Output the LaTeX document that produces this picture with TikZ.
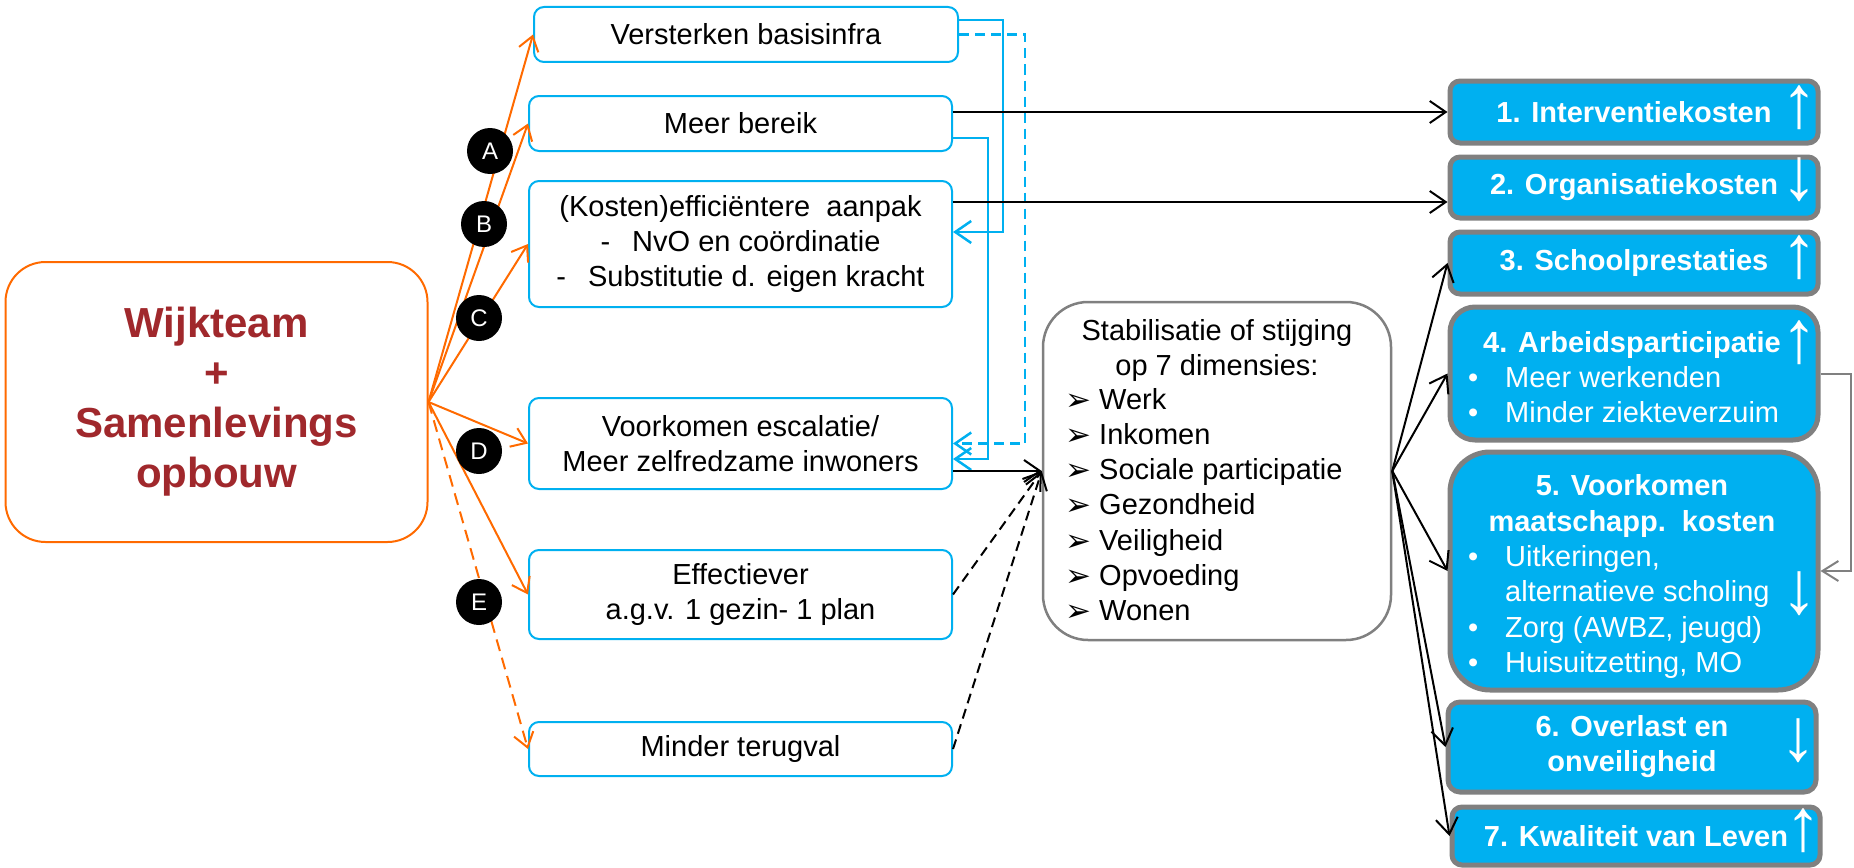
\documentclass[tikz,border=0pt]{standalone}
\usepackage{graphicx}
\usepackage{fontspec}
\setmainfont{Liberation Sans}
\newfontfamily\djv{DejaVu Sans}
\usetikzlibrary{arrows.meta}
\definecolor{cblue}{HTML}{00B0F0}
\definecolor{cgray}{HTML}{808080}
\definecolor{corange}{HTML}{FF6A00}
\definecolor{cred}{HTML}{A0282C}
\newcommand{\myfs}[2]{\fontsize{#1}{#2}\selectfont}
\newcommand{\myarrow}[1]{\scalebox{1.5}[1.55]{#1}}
\begin{document}
\begin{tikzpicture}[x=1pt,y=-1pt,
  wtbox/.style={draw=corange, line width=2pt, rounded corners=40pt, fill=white, inner sep=0pt,
    minimum width=422pt, minimum height=280pt, text=cred, align=center, font=\myfs{42}{50}\bfseries},
  midbox/.style={draw=cblue, line width=2pt, rounded corners=10pt, fill=white, inner sep=0pt,
    align=center, font=\myfs{29}{35}},
  stabbox/.style={draw=cgray, line width=2.5pt, rounded corners=45pt, fill=white, inner sep=0pt,
    minimum width=348pt, minimum height=338pt},
  rbox/.style={draw=cgray, fill=cblue, line width=5pt, inner sep=0pt, align=center, text=white,
    font=\myfs{29}{35}\bfseries},
  rtitle/.style={text=white, font=\myfs{29}{35}\bfseries, inner sep=0pt, anchor=base},
  rtext/.style={text=white, font=\myfs{29}{35}, inner sep=0pt, anchor=base west},
  stext/.style={font=\myfs{29}{35}, inner sep=0pt, anchor=base west},
  updown/.style={text=white, font=\myfs{48}{48}, inner sep=0pt},
  lettercirc/.style={circle, fill=black, text=white, minimum size=46pt, inner sep=0pt, font=\myfs{24}{24}},
  orarr/.style={draw=corange, line width=2pt, -{Straight Barb[length=14pt,width=20pt]}},
  blarr/.style={draw=cblue, line width=2.5pt, -{Straight Barb[length=16pt,width=22pt]}},
  blkarr/.style={draw=black, line width=2pt, -{Straight Barb[length=16pt,width=22pt]}},
  grarr/.style={draw=cgray, line width=2pt, -{Straight Barb[length=16pt,width=20pt]}},
  dsh/.style={dash pattern=on 10pt off 6pt},
  odsh/.style={dash pattern=on 12pt off 7pt}
]
\useasboundingbox (0,0) rectangle (1854,867);

% left box
\node[wtbox] (wt) at (216.5,402) {Wijkteam\\+\\Samenlevings\\opbouw};

% middle boxes
\node[midbox, minimum width=424pt, minimum height=55pt] (b1) at (746,34.5) {Versterken basisinfra};
\node[midbox, minimum width=423pt, minimum height=55pt] (b2) at (740.5,123.5) {Meer bereik};
\node[midbox, minimum width=423pt, minimum height=126pt] (b3) at (740.5,244)
  {(Kosten)efficiëntere\ \ aanpak\\-\hspace{22pt}NvO en coördinatie\\-\hspace{22pt}Substitutie d. eigen kracht};
\node[midbox, minimum width=423pt, minimum height=91pt] (b4) at (740.5,443.5) {Voorkomen escalatie/\\Meer zelfredzame inwoners};
\node[midbox, minimum width=423pt, minimum height=89pt] (b5) at (740.5,594.5) {Effectiever\\a.g.v. 1 gezin- 1 plan};
\node[midbox, minimum width=423pt, minimum height=54pt] (b6) at (740.5,749) {Minder terugval};

% stabilisatie box
\node[stabbox] (stab) at (1217,471) {};
\node[font=\myfs{29}{35}, align=center, inner sep=0pt] (stabt) at (1217,350) {Stabilisatie of stijging\\op 7 dimensies:};
\foreach \t [count=\i] in {Werk,Inkomen,Sociale participatie,Gezondheid,Veiligheid,Opvoeding,Wonen}
  \node[stext] (sl\i) at (1065,{409+35.33*(\i-1)}) {\makebox[34pt][l]{\djv\myfs{31}{31}\raisebox{-1pt}{➢}}\t};

% right boxes
\node[rbox, minimum width=368pt, minimum height=62pt, rounded corners=10pt] (r1) at (1634,112) {1. Interventiekosten};
\node[rbox, minimum width=368pt, minimum height=61pt, rounded corners=10pt] (r2) at (1634,187.5) {2. Organisatiekosten};
\node[rbox, minimum width=368pt, minimum height=62pt, rounded corners=10pt] (r3) at (1634,263) {3. Schoolprestaties};
\node[rbox, minimum width=368pt, minimum height=133pt, rounded corners=25pt] (r4) at (1634,373.5) {};
\node[rbox, minimum width=368pt, minimum height=238pt, rounded corners=40pt] (r5) at (1634,571) {};
\node[rbox, minimum width=368pt, minimum height=90pt, rounded corners=12pt] (r6) at (1632,747) {6. Overlast en\\onveiligheid};
\node[rbox, minimum width=368pt, minimum height=58pt, rounded corners=10pt] (r7) at (1636,836) {7. Kwaliteit van Leven};

\node[rtitle] (r4t) at (1632,352) {4. Arbeidsparticipatie};
\node[rtext] (r4a) at (1468,387) {\makebox[37pt][l]{•}Meer werkenden};
\node[rtext] (r4b) at (1468,422) {\makebox[37pt][l]{•}Minder ziekteverzuim};

\node[rtitle] (r5t) at (1632,495) {5. Voorkomen};
\node[rtitle] (r5u) at (1632,531) {maatschapp.\ \ kosten};
\node[rtext] (r5a) at (1468,566) {\makebox[37pt][l]{•}Uitkeringen,};
\node[rtext] (r5b) at (1468,601) {\makebox[37pt][l]{}alternatieve scholing};
\node[rtext] (r5c) at (1468,637) {\makebox[37pt][l]{•}Zorg (AWBZ, jeugd)};
\node[rtext] (r5d) at (1468,672) {\makebox[37pt][l]{•}Huisuitzetting, MO};

% up/down arrows
\node[updown] (ar1) at (1799,107.5) {\myarrow{↑}};
\node[updown] (ar2) at (1799,180) {\myarrow{↓}};
\node[updown] (ar3) at (1799,257.5) {\myarrow{↑}};
\node[updown] (ar4) at (1799,343) {\myarrow{↑}};
\node[updown] (ar5) at (1799,593.5) {\myarrow{↓}};
\node[updown] (ar6) at (1798,741) {\myarrow{↓}};
\node[updown] (ar7) at (1803,831) {\myarrow{↑}};

% orange connectors
\draw[orarr] (wt.east) -- (b1.west);
\draw[orarr] (wt.east) -- (b2.west);
\draw[orarr] (wt.east) -- (b3.west);
\draw[orarr] (wt.east) -- (b4.west);
\draw[orarr] (wt.east) -- (b5.west);
\draw[orarr, odsh] (wt.east) -- (b6.west);

% blue connectors
\draw[blarr] ([yshift=14.5pt]b1.east) -- ++(44,0) |- ([yshift=12pt]b3.east);
\draw[blarr, dsh] (b1.east) -- ++(66,0) |- (b4.east);
\draw[blarr] ([yshift=-14.5pt]b2.east) -- ++(35,0) |- ([yshift=-15.5pt]b4.east);

% black connectors
\draw[blkarr] (b2.east |- r1.west) -- (r1.west);
\coordinate (k1) at ([yshift=42pt]b3.east);
\draw[blkarr] (k1) -- (k1 -| r2.west);
\draw[blkarr] (b4.east |- stab.west) -- (stab.west);
\draw[blkarr, dsh] (b5.east) -- (stab.west);
\draw[blkarr, dsh] (b6.east) -- (stab.west);
\foreach \t in {r3,r4,r5,r6,r7}
  \draw[blkarr] (stab.east) -- (\t.west);

% gray connector
\draw[grarr] (r4.east) -- ++(30,0) |- (r5.east);

% letter circles
\node[lettercirc] (ca) at (490,151) {A};
\node[lettercirc] (cb) at (484,224) {B};
\node[lettercirc] (cc) at (479,318) {C};
\node[lettercirc] (cd) at (479,451) {D};
\node[lettercirc] (ce) at (479,602) {E};
\end{tikzpicture}
\end{document}
